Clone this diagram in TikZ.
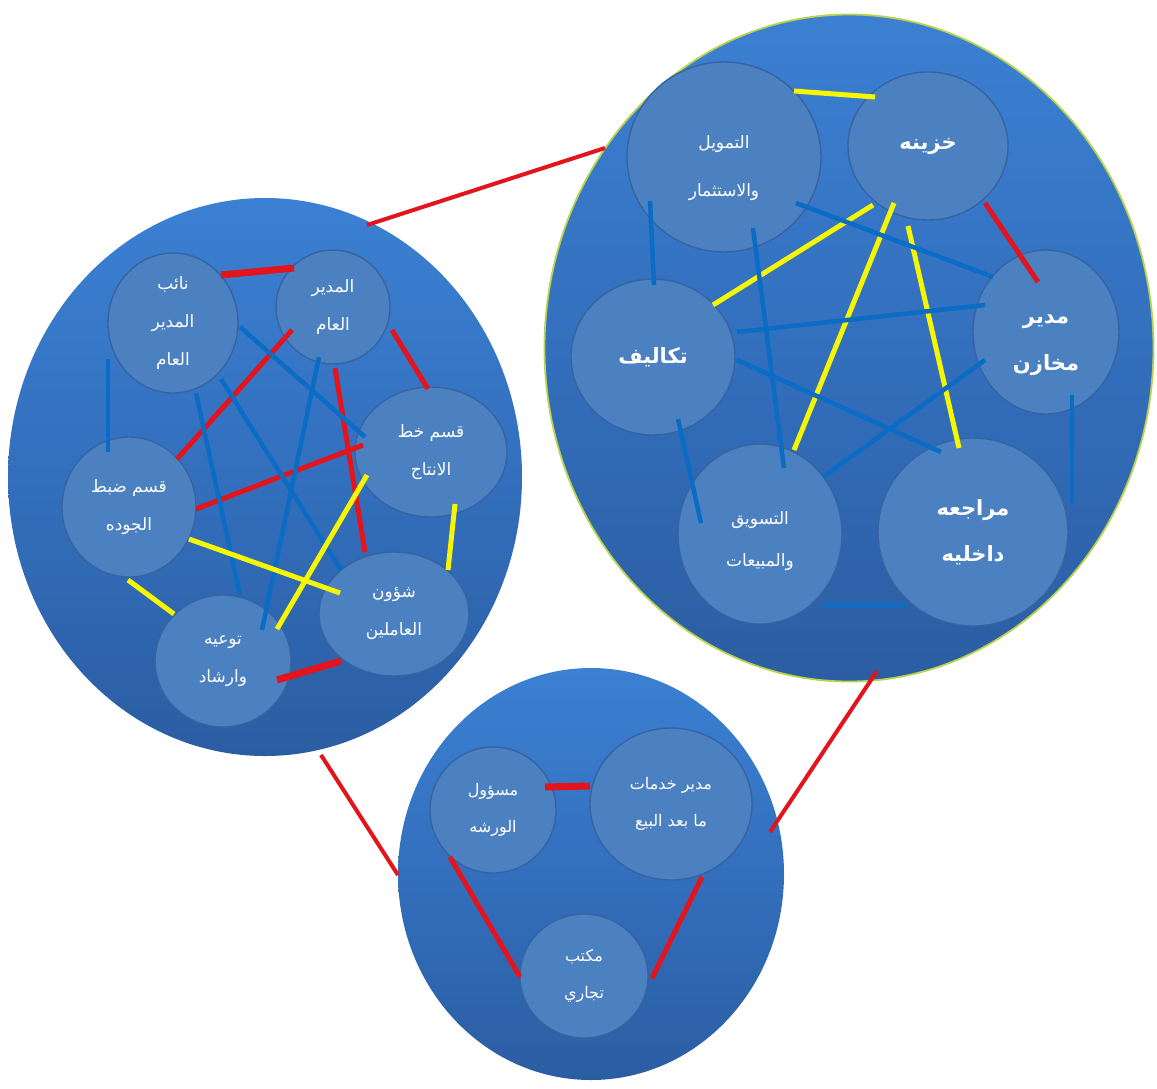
\documentclass[tikz,border=0pt]{standalone}
\usepackage{fontspec}
\newfontfamily\arabicfont[Script=Arabic]{DejaVu Sans}
\TeXXeTstate=1
\usetikzlibrary{shapes.geometric,calc}

\definecolor{bigtop}{HTML}{3B80D2}
\definecolor{bigmid}{HTML}{336FBD}
\definecolor{bigbot}{HTML}{2B5DA2}
\definecolor{unitfill}{HTML}{4B80C1}
\definecolor{unitedge}{HTML}{3763A0}
\definecolor{rimgreen}{HTML}{B8D44C}
\definecolor{linkred}{HTML}{E3141C}
\definecolor{linkyellow}{HTML}{F6F600}
\definecolor{linkblue}{HTML}{0A6CC4}

% one right-to-left line of Arabic
\newcommand\arl[1]{\beginR #1\endR}

\tikzset{
  group/.style={ellipse, inner sep=0pt, top color=bigtop, bottom color=bigbot, middle color=bigmid},
  unit/.style={ellipse, inner sep=0pt, fill=unitfill, draw=unitedge, line width=1.4pt,
    text=white, align=center, font=\arabicfont\fontsize{17}{38}\selectfont},
  unitsmall/.style={unit, font=\arabicfont\fontsize{16}{37}\selectfont},
  unitbold/.style={unit, font=\arabicfont\bfseries\fontsize{21}{46}\selectfont},
  caption/.style={text=white, align=center, inner sep=0pt},
  redlink/.style={draw=linkred, line width=5pt},
  redthick/.style={draw=linkred, line width=7pt},
  yellowlink/.style={draw=linkyellow, line width=5pt},
  bluelink/.style={draw=linkblue, line width=4.5pt},
  grouplink/.style={draw=linkred, line width=4pt},
}

\begin{document}
\begin{tikzpicture}[x=1pt,y=-1pt]
\useasboundingbox[fill=white] (0,0) rectangle (1157,1088);

% the three departments
\node[group, minimum width=514pt, minimum height=558pt] (production) at (265,477) {};
\node[group, minimum width=609pt, minimum height=667pt, draw=rimgreen, line width=1.8pt] (finance) at (849,348) {};
\node[group, minimum width=386pt, minimum height=412pt] (service) at (591,874) {};

% links between departments
\draw[grouplink] ($(production)+(102,-252)$) -- ($(finance)+(-244,-200)$);
\draw[grouplink] ($(production)+(56,278)$) -- ($(service)+(-193,1)$);
\draw[grouplink] ($(finance)+(28,323)$) -- ($(service)+(179,-42)$);

% production department units
\node[unit, minimum width=130pt, minimum height=140pt] (deputy) at (173,323) {\arl{نائب}\\\arl{المدير}\\\arl{العام}};
\node[unit, minimum width=114pt, minimum height=114pt] (gm) at (333,307) {\arl{المدير}\\\arl{العام}};
\node[unit, minimum width=152pt, minimum height=130pt] (line) at (431,452) {\arl{قسم خط}\\\arl{الانتاج}};
\node[unit, minimum width=134pt, minimum height=140pt] (quality) at (129,507) {\arl{قسم ضبط}\\\arl{الجوده}};
\node[unit, minimum width=150pt, minimum height=124pt] (staff) at (394,614) {\arl{شؤون}\\\arl{العاملين}};
\node[unit, minimum width=136pt, minimum height=132pt] (guidance) at (223,661) {\arl{توعيه}\\\arl{وارشاد}};

\draw[redthick] ($(deputy)+(48,-48)$) -- ($(gm)+(-39,-39)$);
\draw[redlink] ($(gm)+(-41,23)$) -- ($(quality)+(48,-48)$);
\draw[redlink] ($(gm)+(59,23)$) -- ($(line)+(-3,-63)$);
\draw[redlink] ($(quality)+(67,2)$) -- ($(line)+(-68,-7)$);
\draw[redlink] ($(gm)+(2,61)$) -- ($(staff)+(-29,-62)$);
\draw[redthick] ($(guidance)+(54,19)$) -- ($(staff)+(-53,47)$);
\draw[bluelink] ($(deputy)+(-65,36)$) -- ($(quality)+(-21,-55)$);
\draw[bluelink] ($(deputy)+(67,4)$) -- ($(line)+(-66,-15)$);
\draw[bluelink] ($(deputy)+(23,70)$) -- ($(guidance)+(17,-66)$);
\draw[bluelink] ($(deputy)+(48,56)$) -- ($(staff)+(-53,-44)$);
\draw[bluelink] ($(gm)+(-14,50)$) -- ($(guidance)+(39,-31)$);
\draw[yellowlink] ($(quality)+(-1,73)$) -- ($(guidance)+(-49,-47)$);
\draw[yellowlink] ($(quality)+(60,32)$) -- ($(staff)+(-54,-21)$);
\draw[yellowlink] ($(line)+(-64,23)$) -- ($(guidance)+(54,-32)$);
\draw[yellowlink] ($(line)+(24,52)$) -- ($(staff)+(54,-44)$);

% finance department units
\node[unit, minimum width=194pt, minimum height=190pt,
  label={[caption, yshift=-11pt, font=\arabicfont\fontsize{17}{48}\selectfont]center:{\arl{التمويل}\\\arl{والاستثمار}}}] (invest) at (724,157) {};
\node[unitbold, minimum width=160pt, minimum height=148pt] (treasury) at (928,146) {\arl{خزينه}};
\node[unit, minimum width=146pt, minimum height=164pt,
  label={[caption, yshift=-13pt, font=\arabicfont\bfseries\fontsize{21}{47}\selectfont]center:{\arl{مدير}\\\arl{مخازن}}}] (stores) at (1046,332) {};
\node[unitbold, minimum width=164pt, minimum height=156pt] (costs) at (653,357) {\arl{تكاليف}};
\node[unit, minimum width=164pt, minimum height=180pt,
  label={[caption, yshift=-7pt, font=\arabicfont\fontsize{17}{42}\selectfont]center:{\arl{التسويق}\\\arl{والمبيعات}}}] (marketing) at (760,534) {};
\node[unitbold, minimum width=190pt, minimum height=188pt] (audit) at (973,532) {\arl{مراجعه}\\\arl{داخليه}};

\draw[yellowlink] ($(invest)+(70,-66)$) -- ($(treasury)+(-53,-49)$);
\draw[yellowlink] ($(treasury)+(-55,59)$) -- ($(costs)+(60,-52)$);
\draw[yellowlink] ($(treasury)+(-34,57)$) -- ($(marketing)+(34,-84)$);
\draw[yellowlink] ($(treasury)+(-20,80)$) -- ($(audit)+(-14,-84)$);
\draw[redlink] ($(treasury)+(57,57)$) -- ($(stores)+(-8,-50)$);
\draw[bluelink] ($(invest)+(72,46)$) -- ($(stores)+(-53,-55)$);
\draw[bluelink] ($(invest)+(-74,44)$) -- ($(costs)+(1,-72)$);
\draw[bluelink] ($(invest)+(29,71)$) -- ($(marketing)+(24,-66)$);
\draw[bluelink] ($(costs)+(84,-25)$) -- ($(stores)+(-61,-27)$);
\draw[bluelink] ($(costs)+(84,3)$) -- ($(audit)+(-32,-80)$);
\draw[bluelink] ($(costs)+(25,62)$) -- ($(marketing)+(-59,-11)$);
\draw[bluelink] ($(stores)+(-61,28)$) -- ($(marketing)+(63,-57)$);
\draw[bluelink] ($(stores)+(26,63)$) -- ($(audit)+(99,-29)$);
\draw[bluelink] ($(marketing)+(63,71)$) -- ($(audit)+(-67,73)$);

% after-sales department units
\node[unitsmall, minimum width=126pt, minimum height=126pt] (workshop) at (493,810) {\arl{مسؤول}\\\arl{الورشه}};
\node[unitsmall, minimum width=162pt, minimum height=152pt] (aftersales) at (671,804) {\arl{مدير خدمات}\\\arl{ما بعد البيع}};
\node[unitsmall, minimum width=128pt, minimum height=124pt] (office) at (584,976) {\arl{مكتب}\\\arl{تجاري}};

\draw[redthick] ($(workshop)+(52,-23)$) -- ($(aftersales)+(-81,-18)$);
\draw[redlink] ($(workshop)+(-43,47)$) -- ($(office)+(-64,1)$);
\draw[redlink] ($(aftersales)+(31,73)$) -- ($(office)+(68,2)$);
\end{tikzpicture}
\end{document}
